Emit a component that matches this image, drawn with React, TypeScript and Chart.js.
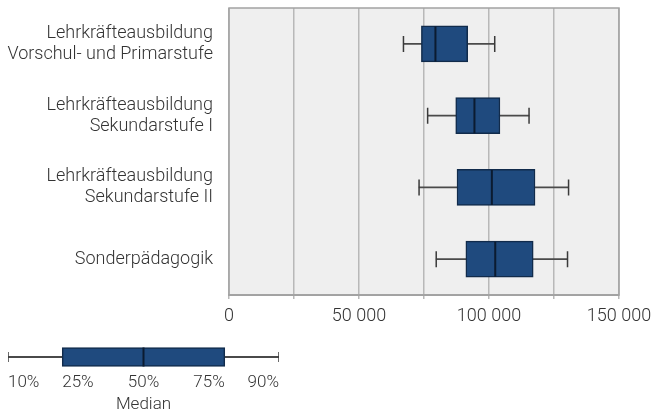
import React, { useEffect, useRef } from 'react';
import { Chart, registerables } from 'chart.js';

Chart.register(...registerables);

// ---- data ----
const categories: string[][] = [
  ['Lehrkräfteausbildung', 'Vorschul- und Primarstufe'],
  ['Lehrkräfteausbildung', 'Sekundarstufe I'],
  ['Lehrkräfteausbildung', 'Sekundarstufe II'],
  ['Sonderpädagogik'],
];
const p10 = [67100, 76400, 73100, 79700];
const q1 = [74000, 87200, 87700, 91100];
const median = [79400, 94400, 101100, 102400];
const q3 = [91800, 104200, 117700, 117000];
const p90 = [102200, 115400, 130600, 130200];

const xMin = 0;
const xMax = 150000;
const xStep = 25000;
const xTickLabels: Record<number, string> = {
  0: '0',
  50000: '50 000',
  100000: '100 000',
  150000: '150 000',
};

// legend (schematic)
const legendValues = [0, 20, 50, 80, 100]; // p10, q1, median, q3, p90 positions
const legendLabels = ['10%', '25%', '50%', '75%', '90%'];
const legendAlign: CanvasTextAlign[] = ['left', 'left', 'center', 'right', 'right'];
const legendTitle = 'Median';

// ---- styles ----
const FONT = 'Roboto, "Noto Sans", sans-serif';
const TEXT = '#333333';
const BOX_FILL = '#1f4a7e';
const BOX_BORDER = '#112b4b';
const MEDIAN_COLOR = '#0b1b30';
const WHISKER = '#3a3a3a';

const plotBg = {
  id: 'plotBg',
  beforeDraw(chart: any) {
    const { ctx, chartArea: a } = chart;
    ctx.save();
    ctx.fillStyle = '#efefef';
    ctx.fillRect(a.left, a.top, a.right - a.left, a.bottom - a.top);
    ctx.restore();
  },
  afterDraw(chart: any) {
    const { ctx, chartArea: a } = chart;
    ctx.save();
    ctx.strokeStyle = '#a3a3a3';
    ctx.lineWidth = 1.5;
    ctx.strokeRect(a.left, a.top, a.right - a.left, a.bottom - a.top);
    ctx.restore();
  },
};

function boxDatasets(lo: number[], a: number[], m: number[], b: number[], hi: number[], boxThick: number, capR: number, medR: number) {
  return [
    {
      type: 'line' as const,
      indexAxis: 'y' as const,
      data: m,
      showLine: false,
      pointStyle: 'line' as const,
      pointRotation: 90,
      pointRadius: medR,
      pointHoverRadius: medR,
      pointBorderColor: MEDIAN_COLOR,
      pointBorderWidth: 2,
      order: 1,
    },
    {
      type: 'line' as const,
      indexAxis: 'y' as const,
      data: lo,
      showLine: false,
      pointStyle: 'line' as const,
      pointRotation: 90,
      pointRadius: capR,
      pointHoverRadius: capR,
      pointBorderColor: WHISKER,
      pointBorderWidth: 1.5,
      order: 1,
    },
    {
      type: 'line' as const,
      indexAxis: 'y' as const,
      data: hi,
      showLine: false,
      pointStyle: 'line' as const,
      pointRotation: 90,
      pointRadius: capR,
      pointHoverRadius: capR,
      pointBorderColor: WHISKER,
      pointBorderWidth: 1.5,
      order: 1,
    },
    {
      type: 'bar' as const,
      data: a.map((v, i) => [v, b[i]]),
      backgroundColor: BOX_FILL,
      borderColor: BOX_BORDER,
      borderWidth: 1.5,
      borderSkipped: false,
      barThickness: boxThick,
      grouped: false,
      order: 2,
    },
    {
      type: 'bar' as const,
      data: lo.map((v, i) => [v, hi[i]]),
      backgroundColor: '#4a4a4a',
      borderWidth: 0,
      barThickness: 1.2,
      grouped: false,
      order: 3,
    },
  ];
}

export default function App() {
  const mainRef = useRef<HTMLCanvasElement>(null);
  const legRef = useRef<HTMLCanvasElement>(null);

  useEffect(() => {
    const main = new Chart(mainRef.current!, {
      type: 'bar',
      data: {
        labels: categories as any,
        datasets: boxDatasets(p10, q1, median, q3, p90, 36, 8, 17.5) as any,
      },
      options: {
        indexAxis: 'y',
        animation: false,
        responsive: false,
        devicePixelRatio: 1,
        layout: { autoPadding: false, padding: { top: 8, right: 45, left: 0, bottom: 0 } },
        plugins: { legend: { display: false }, tooltip: { enabled: false } },
        scales: {
          x: {
            type: 'linear',
            min: xMin,
            max: xMax,
            afterBuildTicks(scale: any) {
              const t = [];
              for (let v = xMin; v <= xMax; v += xStep) t.push({ value: v });
              scale.ticks = t;
            },
            afterFit(scale: any) {
              scale.height = 35;
            },
            grid: { color: '#b8b8b8', lineWidth: 1.5, tickLength: 4, drawTicks: true },
            border: { color: '#a3a3a3', width: 2 },
            ticks: {
              autoSkip: false,
              maxRotation: 0,
              padding: 7,
              color: TEXT,
              font: { family: FONT, size: 18, weight: '300' as any },
              callback: (v: any) => xTickLabels[Number(v)] ?? '',
            },
          },
          y: {
            type: 'category',
            afterFit(scale: any) {
              scale.width = 229;
              scale.paddingTop = 0;
              scale.paddingBottom = 0;
            },
            grid: { display: false, drawTicks: false },
            border: { display: false },
            ticks: {
              padding: 16,
              color: TEXT,
              font: { family: FONT, size: 18, weight: '300' as any, lineHeight: 1.17 },
            },
          },
        },
      },
      plugins: [plotBg],
    });

    const legendText = {
      id: 'legendText',
      afterDraw(chart: any) {
        const { ctx } = chart;
        const xs = chart.scales.x;
        ctx.save();
        ctx.fillStyle = TEXT;
        ctx.font = `300 17px ${FONT}`;
        ctx.textBaseline = 'middle';
        legendLabels.forEach((l, i) => {
          ctx.textAlign = legendAlign[i];
          ctx.fillText(l, xs.getPixelForValue(legendValues[i]), 53);
        });
        ctx.textAlign = 'center';
        ctx.fillText(legendTitle, xs.getPixelForValue(legendValues[2]), 75);
        ctx.restore();
      },
    };

    const leg = new Chart(legRef.current!, {
      type: 'bar',
      data: {
        labels: [''],
        datasets: boxDatasets([legendValues[0]], [legendValues[1]], [legendValues[2]], [legendValues[3]], [legendValues[4]], 19, 5, 9.5) as any,
      },
      options: {
        indexAxis: 'y',
        animation: false,
        responsive: false,
        devicePixelRatio: 1,
        layout: { autoPadding: false, padding: { top: 10, bottom: 40, left: 8, right: 21 } },
        plugins: { legend: { display: false }, tooltip: { enabled: false } },
        scales: {
          x: { type: 'linear', min: 0, max: 100, display: false },
          y: { type: 'category', display: false },
        },
      },
      plugins: [legendText],
    });

    return () => {
      main.destroy();
      leg.destroy();
    };
  }, []);

  return (
    <div style={{ position: 'absolute', left: 0, top: 0, width: 664, height: 414, background: '#fff' }}>
      <canvas ref={mainRef} width={664} height={330} style={{ position: 'absolute', left: 0, top: 0 }} />
      <canvas ref={legRef} width={300} height={84} style={{ position: 'absolute', left: 0, top: 330 }} />
    </div>
  );
}
